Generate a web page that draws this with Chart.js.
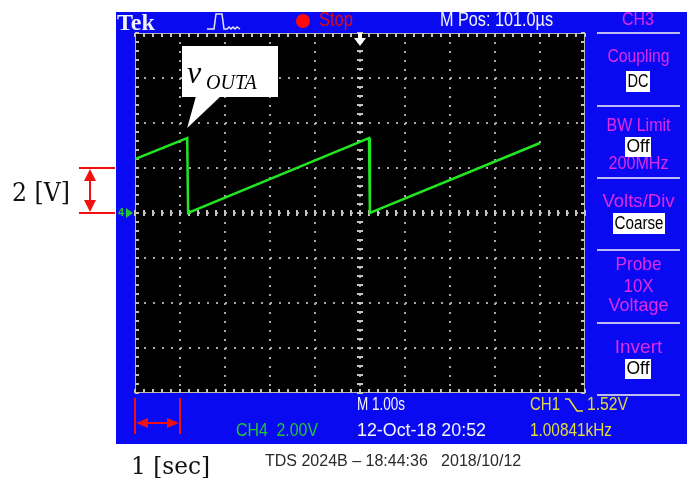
<!DOCTYPE html>
<html>
<head>
<meta charset="utf-8">
<script src="https://cdn.jsdelivr.net/npm/chart.js@4/dist/chart.umd.min.js"></script>
<style>
  html, body { margin: 0; padding: 0; background: #fff; overflow: hidden; }
  canvas { display: block; }
</style>
</head>
<body>
<canvas id="scope" width="687" height="478"></canvas>
<script>
// CH4 trace: sawtooth, 1 s per division, 2 V per division, ground at centre
const timeSec  = [0, 1.16, 1.18, 5.20, 5.22, 9.00];
const ch4Volts = [2.40, 3.33, 0.00, 3.33, 0.00, 3.11];

// graticule: 10 x 8 divisions
const timeGrid = [0, 1, 2, 3, 4, 5, 6, 7, 8, 9, 10];
const voltGrid = [-8, -6, -4, -2, 0, 2, 4, 6, 8];

// on-screen readouts
const topReadouts   = ['Tek', 'Stop', 'M Pos: 101.0\u00b5s'];
const menuTitle     = 'CH3';
const menuLabels    = ['Coupling', 'BW Limit', '200MHz', 'Volts/Div', 'Probe', '10X', 'Voltage', 'Invert'];
const menuValues    = ['DC', 'Off', 'Coarse', 'Off'];
const bottomReadouts = ['M 1.00s', 'CH4  2.00V', '12-Oct-18 20:52', 'CH1', '1.52V', '1.00841kHz'];
const footerText    = 'TDS 2024B \u2013 18:44:36   2018/10/12';
const traceName     = ['v', 'OUTA'];
const scaleNotes    = ['2 [V]', '1 [sec]'];

const BLUE = '#0a0af2';
const MAGENTA = '#e02ae6';
const YELLOW = '#e4dc3c';
const GREEN_TXT = '#22c832';
const TRACE = '#22e622';
const RED = '#f01010';
const SANS = '"Liberation Sans", Arial, sans-serif';
const SERIF = '"Liberation Serif", "Times New Roman", serif';

function text(ctx, s, x, y, font, color, align, maxW, baseline) {
  ctx.font = font;
  ctx.fillStyle = color;
  ctx.textAlign = align || 'left';
  ctx.textBaseline = baseline || 'middle';
  if (maxW) ctx.fillText(s, x, y, maxW); else ctx.fillText(s, x, y);
}

function arrowHead(ctx, tipX, tipY, dx, dy, len, half) {
  // dx,dy: unit direction the arrow points to
  const bx = tipX - dx * len, by = tipY - dy * len;
  ctx.beginPath();
  ctx.moveTo(tipX, tipY);
  ctx.lineTo(bx - dy * half, by + dx * half);
  ctx.lineTo(bx + dy * half, by - dx * half);
  ctx.closePath();
  ctx.fill();
}

const scopeFrame = {
  id: 'scopeFrame',
  beforeDraw(chart) {
    const { ctx, chartArea: a } = chart;
    ctx.save();
    ctx.fillStyle = '#fff';
    ctx.fillRect(0, 0, chart.width, chart.height);
    ctx.fillStyle = BLUE;
    ctx.fillRect(116, 12, 571, 432);
    ctx.fillStyle = '#000';
    ctx.fillRect(a.left, a.top, a.right - a.left, a.bottom - a.top);
    ctx.restore();
  },
  beforeDatasetsDraw(chart) {
    const { ctx, chartArea: a, scales: { x, y } } = chart;
    ctx.save();
    // graticule border with minor ticks
    ctx.strokeStyle = '#b4b4b4';
    ctx.lineWidth = 1;
    ctx.strokeRect(a.left + 0.5, a.top + 0.5, a.right - a.left - 1, a.bottom - a.top - 1);
    ctx.fillStyle = '#c4c4c4';
    for (let i = 0; i <= 50; i++) {
      const px = Math.round(x.getPixelForValue(i * 0.2));
      ctx.fillRect(px - 1, a.top, 2, 4);
      ctx.fillRect(px - 1, a.bottom - 4, 2, 4);
    }
    for (let j = 0; j <= 40; j++) {
      const py = Math.round(y.getPixelForValue(-8 + j * 0.4));
      ctx.fillRect(a.left, py - 1, 4, 2);
      ctx.fillRect(a.right - 4, py - 1, 4, 2);
    }
    // centre axes with minor ticks
    const cx = Math.round(x.getPixelForValue(5));
    const cy = Math.round(y.getPixelForValue(0));
    for (let j = 0; j <= 40; j++) {
      const py = Math.round(y.getPixelForValue(-8 + j * 0.4));
      ctx.fillRect(cx - 3, py - 1, 6, 2);
    }
    for (let i = 0; i <= 50; i++) {
      const px = Math.round(x.getPixelForValue(i * 0.2));
      ctx.fillRect(px - 1, cy - 3, 2, 6);
    }
    ctx.restore();
  },
  afterDraw(chart) {
    const { ctx, scales: { x, y } } = chart;
    ctx.save();

    // ---- top status bar ----
    text(ctx, topReadouts[0], 117, 30, 'bold 24px ' + SERIF, '#f2f2ff', 'left', 41, 'alphabetic');
    ctx.strokeStyle = '#e6e6f0';
    ctx.lineWidth = 1.5;
    ctx.beginPath();
    ctx.moveTo(207, 29); ctx.lineTo(214, 29); ctx.lineTo(216, 14); ctx.lineTo(222, 14);
    ctx.lineTo(224, 29); ctx.lineTo(227, 29);
    ctx.lineTo(229, 27); ctx.lineTo(231, 29); ctx.lineTo(233, 27); ctx.lineTo(235, 29);
    ctx.lineTo(237, 27); ctx.lineTo(240, 29);
    ctx.stroke();
    ctx.fillStyle = '#ff0a0a';
    ctx.beginPath(); ctx.arc(303, 21, 7, 0, Math.PI * 2); ctx.fill();
    text(ctx, topReadouts[1], 319, 20.5, '20px ' + SANS, '#e80a0a', 'left', 34);
    text(ctx, topReadouts[2], 440, 20.5, '20px ' + SANS, '#f4f4ff', 'left', 113);

    // trigger position marker
    const tx = Math.round(x.getPixelForValue(5));
    ctx.fillStyle = '#fff';
    ctx.fillRect(tx - 2, 33, 4, 6);
    ctx.beginPath(); ctx.moveTo(tx - 6, 38); ctx.lineTo(tx + 6, 38); ctx.lineTo(tx, 46); ctx.closePath(); ctx.fill();

    // channel ground marker
    const gy = y.getPixelForValue(0);
    text(ctx, '4', 118, gy, 'bold 11px ' + SANS, GREEN_TXT, 'left');
    ctx.fillStyle = GREEN_TXT;
    ctx.beginPath(); ctx.moveTo(126, gy - 5); ctx.lineTo(133, gy); ctx.lineTo(126, gy + 5); ctx.closePath(); ctx.fill();

    // ---- side menu ----
    const mx = 638.5;
    const MF = '19px ' + SANS;
    text(ctx, menuTitle, 638, 19.5, MF, MAGENTA, 'center', 32);
    ctx.strokeStyle = '#bcbcf2';
    ctx.lineWidth = 2;
    [33, 106, 178, 250, 323, 395].forEach(sy => {
      ctx.beginPath(); ctx.moveTo(597, sy); ctx.lineTo(680, sy); ctx.stroke();
    });
    const labelPos = [[57, 62], [126, 64], [164, 60], [202, 72], [265, 46], [287, 30], [306, 60], [348, 50]];
    menuLabels.forEach((s, i) => text(ctx, s, mx, labelPos[i][0], MF, MAGENTA, 'center', labelPos[i][1]));
    const boxPos = [[626, 71, 24, 21], [625, 137, 26, 20], [613, 213, 52, 21], [625, 359, 26, 20]];
    menuValues.forEach((s, i) => {
      const [bx, by, bw, bh] = boxPos[i];
      ctx.fillStyle = '#fff';
      ctx.fillRect(bx, by, bw, bh);
      text(ctx, s, bx + bw / 2, by + bh / 2 + 0.5, '18px ' + SANS, '#000', 'center', bw - 3);
    });

    // ---- bottom readouts ----
    const BF = '19px ' + SANS;
    text(ctx, bottomReadouts[0], 357, 405, BF, '#f4f4ff', 'left', 48);
    text(ctx, bottomReadouts[1], 236, 431, BF, GREEN_TXT, 'left', 82);
    text(ctx, bottomReadouts[2], 357, 431, BF, '#f4f4ff', 'left', 129);
    text(ctx, bottomReadouts[3], 530, 405, BF, YELLOW, 'left', 30);
    ctx.strokeStyle = YELLOW;
    ctx.lineWidth = 1.6;
    ctx.beginPath(); ctx.moveTo(565, 399); ctx.lineTo(569, 399); ctx.lineTo(577, 411); ctx.lineTo(583, 411); ctx.stroke();
    text(ctx, bottomReadouts[4], 587, 405, BF, YELLOW, 'left', 41);
    text(ctx, bottomReadouts[5], 530, 431, BF, YELLOW, 'left', 82);

    // ---- time scale marker (one division) ----
    const x0 = x.getPixelForValue(0), x1 = x.getPixelForValue(1);
    ctx.strokeStyle = RED; ctx.fillStyle = RED; ctx.lineWidth = 2;
    ctx.beginPath();
    ctx.moveTo(x0, 398); ctx.lineTo(x0, 434);
    ctx.moveTo(x1, 398); ctx.lineTo(x1, 434);
    ctx.moveTo(x0 + 10, 423); ctx.lineTo(x1 - 10, 423);
    ctx.stroke();
    arrowHead(ctx, x0 + 1, 423, -1, 0, 12, 5);
    arrowHead(ctx, x1 - 1, 423, 1, 0, 12, 5);

    // ---- voltage scale marker (one division) ----
    const yTop = y.getPixelForValue(2), yBot = y.getPixelForValue(0);
    ctx.beginPath();
    ctx.moveTo(79, yTop); ctx.lineTo(115, yTop);
    ctx.moveTo(79, yBot); ctx.lineTo(115, yBot);
    ctx.moveTo(90, yTop + 10); ctx.lineTo(90, yBot - 10);
    ctx.stroke();
    arrowHead(ctx, 90, yTop + 1, 0, -1, 12, 6);
    arrowHead(ctx, 90, yBot - 1, 0, 1, 12, 6);

    text(ctx, scaleNotes[0], 12, 201, '26px "DejaVu Serif", serif', '#111', 'left', 58, 'alphabetic');
    text(ctx, scaleNotes[1], 131, 474, '24px "DejaVu Serif", serif', '#111', 'left', 79, 'alphabetic');
    text(ctx, footerText, 265, 462, '16px ' + SANS, '#2a2a2a', 'left', 279);

    // ---- trace name callout ----
    const px = x.getPixelForValue(timeSec[1]);
    ctx.fillStyle = '#fff';
    ctx.fillRect(182, 46, 96, 51);
    ctx.beginPath();
    ctx.moveTo(196, 96); ctx.lineTo(221, 96); ctx.lineTo(px, 128); ctx.closePath(); ctx.fill();
    text(ctx, traceName[0], 187, 83, 'italic 32px ' + SERIF, '#000', 'left', null, 'alphabetic');
    text(ctx, traceName[1], 206, 89, 'italic 20px ' + SERIF, '#000', 'left', 56, 'alphabetic');

    ctx.restore();
  }
};

new Chart(document.getElementById('scope'), {
  type: 'scatter',
  data: {
    datasets: [{
      label: 'CH4',
      data: timeSec.map((t, i) => ({ x: t, y: ch4Volts[i] })),
      showLine: true,
      borderColor: TRACE,
      borderWidth: 2.5,
      pointRadius: 0,
      tension: 0
    }]
  },
  options: {
    responsive: false,
    animation: false,
    devicePixelRatio: 1,
    layout: { padding: { left: 135, top: 33, right: 102, bottom: 85 } },
    plugins: { legend: { display: false }, tooltip: { enabled: false } },
    scales: {
      x: {
        type: 'linear', min: 0, max: 10,
        afterBuildTicks: s => { s.ticks = timeGrid.map(v => ({ value: v })); },
        ticks: { display: false },
        grid: {
          drawTicks: false, lineWidth: 2,
          color: c => (c.tick && (c.tick.value === 0 || c.tick.value === 10)) ? 'rgba(0,0,0,0)' : '#a6a6a6'
        },
        border: { display: false, dash: [2, 7] }
      },
      y: {
        type: 'linear', min: -8, max: 8,
        afterBuildTicks: s => { s.ticks = voltGrid.map(v => ({ value: v })); },
        ticks: { display: false },
        grid: {
          drawTicks: false, lineWidth: 2,
          color: c => (c.tick && (c.tick.value === -8 || c.tick.value === 8)) ? 'rgba(0,0,0,0)' : '#a6a6a6'
        },
        border: { display: false, dash: [2, 7] }
      }
    }
  },
  plugins: [scopeFrame]
});
</script>
</body>
</html>
